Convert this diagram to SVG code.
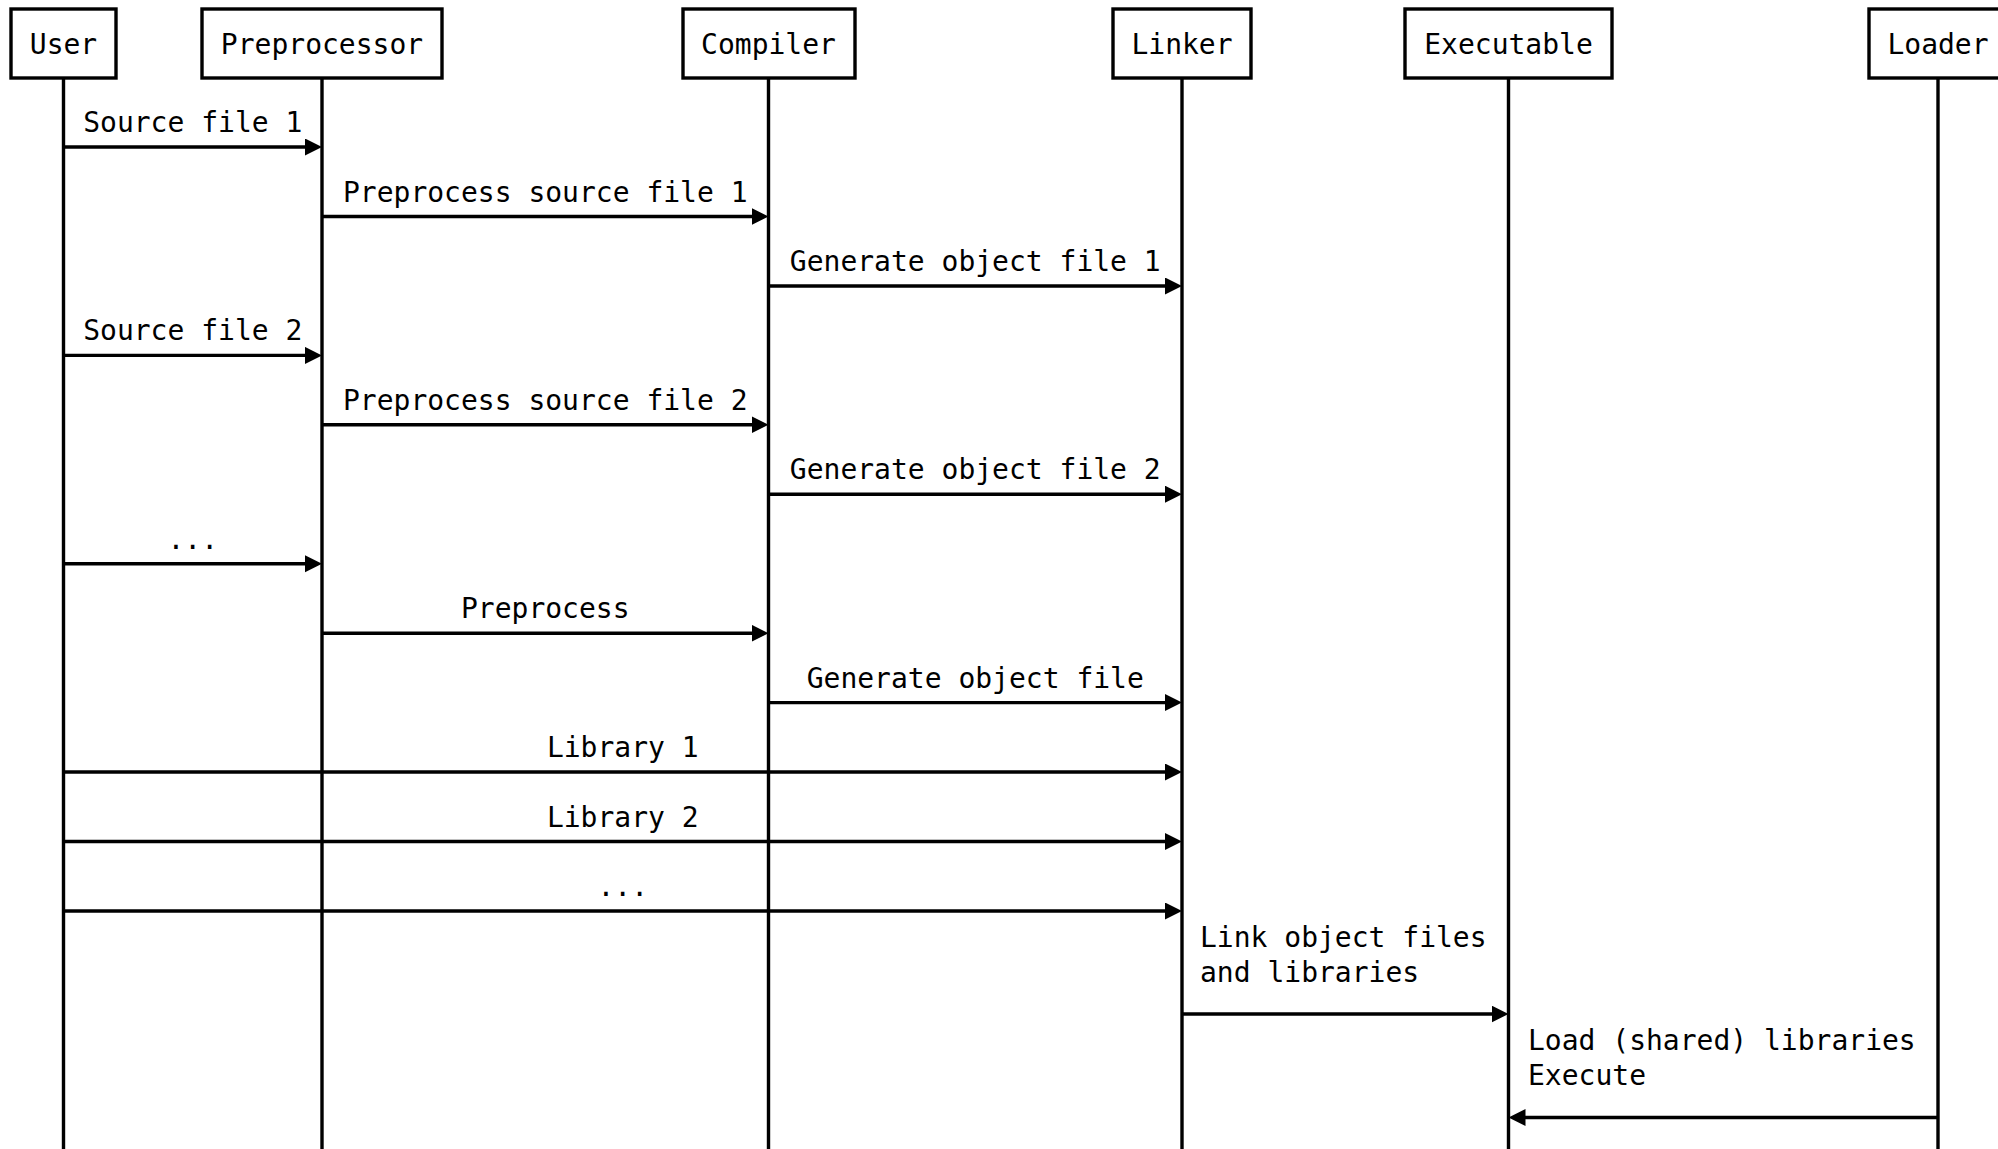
<svg xmlns="http://www.w3.org/2000/svg" width="1998" height="1149" viewBox="0 0 1998 1149">
  <style>
    .box { fill: #ffffff; stroke: #000000; stroke-width: 3.4; }
    .life { stroke: #000000; stroke-width: 3.4; fill: none; }
    .msg { stroke: #000000; stroke-width: 3.4; fill: none; marker-end: url(#head); }
    text { font-family: "DejaVu Sans Mono", "Liberation Mono", monospace; font-size: 28px; fill: #000000; }
    .c { text-anchor: middle; }
  </style>
  <defs>
    <marker id="head" markerUnits="userSpaceOnUse" markerWidth="18" markerHeight="18" refX="7" refY="8.5" orient="auto">
      <path d="M0,0 L17,8.5 L0,17 Z" fill="#000000"/>
    </marker>
  </defs>
  <rect width="1998" height="1149" fill="#ffffff"/>

  <!-- lifelines -->
  <g id="lifelines">
    <line class="life" x1="63.5" y1="78" x2="63.5" y2="1149"/>
    <line class="life" x1="322" y1="78" x2="322" y2="1149"/>
    <line class="life" x1="768.5" y1="78" x2="768.5" y2="1149"/>
    <line class="life" x1="1182" y1="78" x2="1182" y2="1149"/>
    <line class="life" x1="1508.5" y1="78" x2="1508.5" y2="1149"/>
    <line class="life" x1="1938" y1="78" x2="1938" y2="1149"/>
  </g>

  <!-- participants -->
  <g id="user">
    <rect class="box" x="11" y="9" width="105" height="69"/>
    <text class="c" x="63.5" y="53.5">User</text>
  </g>
  <g id="preprocessor">
    <rect class="box" x="202" y="9" width="240" height="69"/>
    <text class="c" x="322" y="53.5">Preprocessor</text>
  </g>
  <g id="compiler">
    <rect class="box" x="683" y="9" width="172" height="69"/>
    <text class="c" x="768.5" y="53.5">Compiler</text>
  </g>
  <g id="linker">
    <rect class="box" x="1113" y="9" width="138" height="69"/>
    <text class="c" x="1182" y="53.5">Linker</text>
  </g>
  <g id="executable">
    <rect class="box" x="1405" y="9" width="207" height="69"/>
    <text class="c" x="1508.5" y="53.5">Executable</text>
  </g>
  <g id="loader">
    <rect class="box" x="1869" y="9" width="140" height="69"/>
    <text class="c" x="1938" y="53.5">Loader</text>
  </g>

  <!-- messages -->
  <g id="connectors">
    <line class="msg" x1="63.5" y1="147" x2="312" y2="147"/>
    <text class="c" x="192.75" y="132">Source file 1</text>

    <line class="msg" x1="322" y1="216.5" x2="758.5" y2="216.5"/>
    <text class="c" x="545.25" y="201.5">Preprocess source file 1</text>

    <line class="msg" x1="768.5" y1="286" x2="1172" y2="286"/>
    <text class="c" x="975.25" y="271">Generate object file 1</text>

    <line class="msg" x1="63.5" y1="355.4" x2="312" y2="355.4"/>
    <text class="c" x="192.75" y="340.4">Source file 2</text>

    <line class="msg" x1="322" y1="424.8" x2="758.5" y2="424.8"/>
    <text class="c" x="545.25" y="409.8">Preprocess source file 2</text>

    <line class="msg" x1="768.5" y1="494.2" x2="1172" y2="494.2"/>
    <text class="c" x="975.25" y="479.2">Generate object file 2</text>

    <line class="msg" x1="63.5" y1="563.7" x2="312" y2="563.7"/>
    <text class="c" x="192.75" y="548.7">...</text>

    <line class="msg" x1="322" y1="633.2" x2="758.5" y2="633.2"/>
    <text class="c" x="545.25" y="618.2">Preprocess</text>

    <line class="msg" x1="768.5" y1="702.6" x2="1172" y2="702.6"/>
    <text class="c" x="975.25" y="687.6">Generate object file</text>

    <line class="msg" x1="63.5" y1="772" x2="1172" y2="772"/>
    <text class="c" x="622.75" y="757">Library 1</text>

    <line class="msg" x1="63.5" y1="841.5" x2="1172" y2="841.5"/>
    <text class="c" x="622.75" y="826.5">Library 2</text>

    <line class="msg" x1="63.5" y1="911" x2="1172" y2="911"/>
    <text class="c" x="622.75" y="896">...</text>

    <line class="msg" x1="1182" y1="1014" x2="1498.5" y2="1014"/>
    <text x="1200" y="947">Link object files</text>
    <text x="1200" y="981.5">and libraries</text>

    <line class="msg" x1="1938" y1="1117.5" x2="1518.5" y2="1117.5"/>
    <text x="1528" y="1050">Load (shared) libraries</text>
    <text x="1528" y="1084.5">Execute</text>
  </g>
</svg>
